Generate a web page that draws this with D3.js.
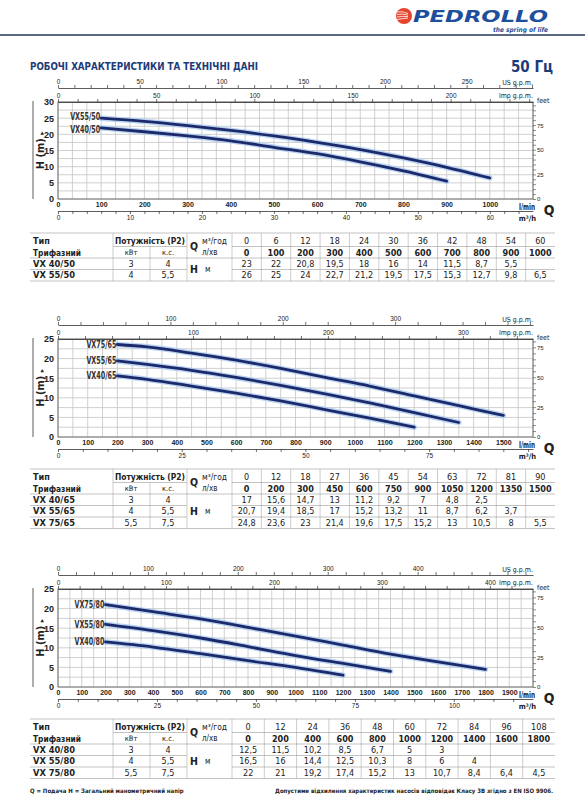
<!DOCTYPE html>
<html>
<head>
<meta charset="utf-8">
<script src="https://cdn.jsdelivr.net/npm/d3@7"></script>
<style>body{margin:0;background:#fff}</style>
</head>
<body>
<script>
// ---------- data: VX ../50 ----------
const lmin50 = [0, 100, 200, 300, 400, 500, 600, 700, 800, 900, 1000];
const m3h50 = [0, 6, 12, 18, 24, 30, 36, 42, 48, 54, 60];
const hVX40_50 = [23, 22, 20.8, 19.5, 18, 16, 14, 11.5, 8.7, 5.5];
const hVX55_50 = [26, 25, 24, 22.7, 21.2, 19.5, 17.5, 15.3, 12.7, 9.8, 6.5];
const models50 = ['VX 40/50', 'VX 55/50'];
const kw50 = ['3', '4'];
const hp50 = ['4', '5,5'];

// ---------- data: VX ../65 ----------
const lmin65 = [0, 200, 300, 450, 600, 750, 900, 1050, 1200, 1350, 1500];
const m3h65 = [0, 12, 18, 27, 36, 45, 54, 63, 72, 81, 90];
const hVX40_65 = [17, 15.6, 14.7, 13, 11.2, 9.2, 7, 4.8, 2.5];
const hVX55_65 = [20.7, 19.4, 18.5, 17, 15.2, 13.2, 11, 8.7, 6.2, 3.7];
const hVX75_65 = [24.8, 23.6, 23, 21.4, 19.6, 17.5, 15.2, 13, 10.5, 8, 5.5];
const models65 = ['VX 40/65', 'VX 55/65', 'VX 75/65'];
const kw65 = ['3', '4', '5,5'];
const hp65 = ['4', '5,5', '7,5'];

// ---------- data: VX ../80 ----------
const lmin80 = [0, 200, 400, 600, 800, 1000, 1200, 1400, 1600, 1800];
const m3h80 = [0, 12, 24, 36, 48, 60, 72, 84, 96, 108];
const hVX40_80 = [12.5, 11.5, 10.2, 8.5, 6.7, 5, 3];
const hVX55_80 = [16.5, 16, 14.4, 12.5, 10.3, 8, 6, 4];
const hVX75_80 = [22, 21, 19.2, 17.4, 15.2, 13, 10.7, 8.4, 6.4, 4.5];
const models80 = ['VX 40/80', 'VX 55/80', 'VX 75/80'];
const kw80 = ['3', '4', '5,5'];
const hp80 = ['4', '5,5', '7,5'];

// ---------- layout ----------
const FN = '"Liberation Sans Narrow", "DejaVu Sans Condensed", "Arial Narrow", sans-serif';
const NAVY = '#1c2a6b';
const plotLeft = 58, plotRight = 533;
const US_PER_LMIN = 0.264172, IMP_PER_LMIN = 0.219969, FT_PER_M = 3.28084;

const svg = d3.select('body').append('svg')
    .attr('width', 585)
    .attr('height', 800)
    .style('font-family', FN);

const fmt = d => String(d).replace('.', ',');

// ---------- header ----------
const logo = svg.append('g');
logo.append('circle').attr('cx', 404).attr('cy', 16).attr('r', 8).attr('fill', '#e6452d');
[-4, -1.5, 1, 3.5].forEach(dy => {
    logo.append('path')
        .attr('d', `M397,${16 + dy} Q403,${15 + dy} 408,${16 + dy * 0.6}`)
        .attr('stroke', '#fff').attr('stroke-width', 0.8).attr('fill', 'none');
});
logo.append('text')
    .attr('x', 413).attr('y', 22)
    .attr('font-family', '"DejaVu Sans", sans-serif')
    .attr('font-size', 15).attr('font-weight', 'bold').attr('font-style', 'italic')
    .attr('textLength', 135).attr('lengthAdjust', 'spacingAndGlyphs')
    .attr('fill', '#1d4f9c')
    .text('PEDROLLO');
logo.append('text')
    .attr('x', 548).attr('y', 32).attr('text-anchor', 'end')
    .attr('font-size', 6.5).attr('font-style', 'italic').attr('font-weight', 'bold')
    .attr('fill', '#1d4f9c')
    .text('the spring of life');

svg.append('line')
    .attr('x1', 0).attr('x2', 585).attr('y1', 35).attr('y2', 35)
    .attr('stroke', '#25355a').attr('stroke-width', 1.3);

svg.append('text')
    .attr('x', 30).attr('y', 70)
    .attr('font-size', 11).attr('font-weight', 'bold').attr('fill', '#1e3a78')
    .attr('textLength', 228).attr('lengthAdjust', 'spacingAndGlyphs')
    .text('РОБОЧІ ХАРАКТЕРИСТИКИ ТА ТЕХНІЧНІ ДАНІ');
svg.append('text')
    .attr('x', 553).attr('y', 72).attr('text-anchor', 'end')
    .attr('font-size', 15).attr('font-weight', 'bold').attr('fill', '#1e3a78')
    .text('50 Гц');

// ---------- chart ----------
function drawChart(cfg)
{
    const { top, bottom, qMax, hMax } = cfg;
    const g = svg.append('g');

    const x = d3.scaleLinear().domain([0, qMax]).range([plotLeft, plotRight]);
    const y = d3.scaleLinear().domain([0, hMax]).range([bottom, top]);

    // grid
    g.append('g').selectAll('line')
        .data(d3.range(0, qMax + 0.01, cfg.gridQ))
        .enter().append('line')
        .attr('x1', d => x(d)).attr('x2', d => x(d))
        .attr('y1', top).attr('y2', bottom)
        .attr('stroke', '#c4c4c4').attr('stroke-width', 0.8);
    g.append('g').selectAll('line')
        .data(d3.range(0, hMax + 0.01, 2.5))
        .enter().append('line')
        .attr('x1', plotLeft).attr('x2', plotRight)
        .attr('y1', d => y(d)).attr('y2', d => y(d))
        .attr('stroke', '#c4c4c4').attr('stroke-width', 0.8);

    g.append('rect')
        .attr('x', plotLeft).attr('y', top)
        .attr('width', plotRight - plotLeft).attr('height', bottom - top)
        .attr('fill', 'none').attr('stroke', '#555').attr('stroke-width', 0.8);

    // left axis (H m)
    const yAxis = g.append('g')
        .attr('transform', `translate(${plotLeft},0)`)
        .call(d3.axisLeft(y).tickValues(d3.range(0, hMax + 0.1, 5)).tickSize(0).tickPadding(4));
    yAxis.select('.domain').remove();
    yAxis.selectAll('text').attr('font-size', 9).attr('font-weight', 'bold').attr('fill', '#222');

    // right axis (feet)
    const ft = d3.scaleLinear().domain([0, hMax * FT_PER_M]).range([bottom, top]);
    const ftAxis = g.append('g')
        .attr('transform', `translate(${plotRight},0)`)
        .call(d3.axisRight(ft)
            .tickValues(d3.range(0, hMax * FT_PER_M, 5))
            .tickFormat(d => d % 25 === 0 ? d : '')
            .tickSize(3).tickPadding(1));
    ftAxis.select('.domain').remove();
    ftAxis.selectAll('line').attr('stroke', '#444').attr('stroke-width', 0.6);
    ftAxis.selectAll('text').attr('font-size', 6).attr('fill', '#222');
    g.append('text')
        .attr('x', plotRight + 4).attr('y', top + 1)
        .attr('font-size', 7).attr('fill', '#222').text('feet');

    // top axes (US and Imp g.p.m.); labels near the unit text are left out
    const topLabel = (sc, lab) => d => (d % lab === 0 && sc(d) < 495) ? d : '';
    const us = d3.scaleLinear().domain([0, qMax * US_PER_LMIN]).range([plotLeft, plotRight]);
    const usAxis = g.append('g')
        .attr('transform', `translate(0,${top - 14})`)
        .call(d3.axisTop(us)
            .tickValues(d3.range(0, qMax * US_PER_LMIN, cfg.usStep))
            .tickFormat(topLabel(us, cfg.usLab))
            .tickSize(3).tickSizeOuter(0).tickPadding(1));
    const imp = d3.scaleLinear().domain([0, qMax * IMP_PER_LMIN]).range([plotLeft, plotRight]);
    const impAxis = g.append('g')
        .attr('transform', `translate(0,${top})`)
        .call(d3.axisTop(imp)
            .tickValues(d3.range(0, qMax * IMP_PER_LMIN, cfg.impStep))
            .tickFormat(topLabel(imp, cfg.impLab))
            .tickSize(3).tickSizeOuter(0).tickPadding(1));
    [usAxis, impAxis].forEach(a => {
        a.selectAll('line').attr('stroke', '#333').attr('stroke-width', 0.7);
        a.select('.domain').attr('stroke', '#333').attr('stroke-width', 0.8);
        a.selectAll('text').attr('font-size', 6.5).attr('fill', '#222');
    });
    g.append('text').attr('x', plotRight).attr('y', top - 17).attr('text-anchor', 'end')
        .attr('font-size', 7).attr('fill', '#222').text('US g.p.m.');
    g.append('text').attr('x', plotRight).attr('y', top - 4).attr('text-anchor', 'end')
        .attr('font-size', 7).attr('fill', '#222').text('Imp g.p.m.');

    // bottom l/min labels
    const qAxis = g.append('g')
        .attr('transform', `translate(0,${bottom})`)
        .call(d3.axisBottom(x).tickValues(d3.range(0, qMax, 100))
            .tickFormat(d3.format('d')).tickSize(0).tickPadding(2));
    qAxis.select('.domain').remove();
    qAxis.selectAll('text')
        .attr('font-size', 8).attr('font-weight', 'bold').attr('fill', '#222')
        .attr('textLength', d => String(d).length * 3.9)
        .attr('lengthAdjust', 'spacingAndGlyphs');
    g.append('text').attr('x', 535).attr('y', bottom + 10.5).attr('text-anchor', 'end')
        .attr('font-size', 8).attr('font-weight', 'bold').attr('fill', '#222')
        .attr('textLength', 16).attr('lengthAdjust', 'spacingAndGlyphs')
        .text('l/min');

    // m3/h axis
    const m3 = d3.scaleLinear().domain([0, qMax * 0.06]).range([plotLeft, plotRight]);
    const m3Axis = g.append('g')
        .attr('transform', `translate(0,${bottom + 12})`)
        .call(d3.axisBottom(m3)
            .tickValues(d3.range(0, qMax * 0.06 - 0.01, cfg.m3Step))
            .tickFormat(d => d % cfg.m3Lab === 0 ? d : '')
            .tickSize(3).tickSizeOuter(0).tickPadding(1));
    m3Axis.selectAll('line').attr('stroke', '#333').attr('stroke-width', 0.7);
    m3Axis.select('.domain').attr('stroke', '#333').attr('stroke-width', 0.8);
    m3Axis.selectAll('text').attr('font-size', 6.5).attr('fill', '#222');
    g.append('text').attr('x', 536).attr('y', bottom + 22).attr('text-anchor', 'end')
        .attr('font-size', 7.5).attr('font-weight', 'bold').attr('fill', '#222').text('m³/h');

    g.append('text').attr('x', 549).attr('y', bottom + 16).attr('text-anchor', 'middle')
        .attr('font-size', 14).attr('font-weight', 'bold').attr('fill', '#222').text('Q');

    // H (m) label
    g.append('line')
        .attr('x1', 33).attr('x2', 33).attr('y1', top - 1).attr('y2', bottom)
        .attr('stroke', '#333').attr('stroke-width', 0.8);
    const hl = g.append('text')
        .attr('transform', `translate(44,${(top + bottom) / 2}) rotate(-90)`)
        .attr('text-anchor', 'middle')
        .attr('font-size', 11).attr('font-weight', 'bold').attr('fill', '#222');
    hl.append('tspan').text('H (m) ');
    hl.append('tspan').attr('font-size', 7).text('▸');

    // curves
    const line = d3.line()
        .x(d => x(d[0]))
        .y(d => y(d[1]))
        .curve(d3.curveMonotoneX);
    cfg.curves.forEach(c => {
        const pts = c.h.map((v, i) => [c.q[i], v]).slice(1);
        g.append('path').datum(pts).attr('d', line)
            .attr('fill', 'none').attr('stroke', '#a9c9ee').attr('stroke-width', 5.5)
            .attr('stroke-linecap', 'round').attr('opacity', 0.8);
        g.append('path').datum(pts).attr('d', line)
            .attr('fill', 'none').attr('stroke', NAVY).attr('stroke-width', 2.8)
            .attr('stroke-linecap', 'round');
        g.append('text')
            .attr('x', x(pts[0][0]) - 1).attr('y', y(pts[0][1]) + (c.shift || 0))
            .attr('dy', '0.35em').attr('text-anchor', 'end')
            .attr('font-size', 10).attr('font-weight', 'bold').attr('fill', '#333')
            .attr('textLength', 30).attr('lengthAdjust', 'spacingAndGlyphs')
            .text(c.name);
    });
}

// ---------- table ----------
function drawTable(t)
{
    const y0 = t.top;
    const g = svg.append('g');
    const n = t.m3h.length;
    const numL = 232, numR = 555;
    const col = d3.scaleBand().domain(d3.range(n)).range([numL, numR]);
    const rowH = 11.5;
    const r1 = y0 + 8, r2 = y0 + 19.5, hdrB = y0 + 25;
    const dataY = i => hdrB + rowH * i + rowH / 2;
    const bottomY = hdrB + rowH * t.models.length;
    const gray = '#9a9a9a';

    const hline = (x1, x2, yy) => g.append('line')
        .attr('x1', x1).attr('x2', x2).attr('y1', yy).attr('y2', yy)
        .attr('stroke', gray).attr('stroke-width', 0.6);
    const vline = (xx, y1, y2) => g.append('line')
        .attr('x1', xx).attr('x2', xx).attr('y1', y1).attr('y2', y2)
        .attr('stroke', gray).attr('stroke-width', 0.5);

    hline(30, 555, y0);
    hline(113, 187, y0 + 13.5);
    hline(232, 555, y0 + 13.5);
    hline(30, 555, hdrB);
    for (let i = 1; i < t.models.length; i++) {
        hline(30, 187, hdrB + rowH * i);
        hline(232, 555, hdrB + rowH * i);
    }
    hline(30, 555, bottomY);

    vline(113, y0, bottomY);
    vline(150, y0 + 13.5, bottomY);
    vline(187, y0, bottomY);
    vline(232, y0, bottomY);
    for (let i = 1; i < n; i++) vline(col(i), y0, bottomY);

    const txt = (xx, yy, s, size, bold, anchor) => g.append('text')
        .attr('x', xx).attr('y', yy).attr('dy', '0.35em')
        .attr('text-anchor', anchor || 'middle')
        .attr('font-size', size).attr('font-weight', bold ? 'bold' : 'normal')
        .attr('fill', '#222').text(s);

    txt(33, r1, 'Тип', 9, true, 'start');
    txt(33, r2, 'Трифазний', 9, true, 'start')
        .attr('textLength', 48).attr('lengthAdjust', 'spacingAndGlyphs');
    txt(150, r1, 'Потужність (P2)', 8.5, true)
        .attr('textLength', 70).attr('lengthAdjust', 'spacingAndGlyphs');
    txt(131, r2, 'кВт', 7.5, false);
    txt(168, r2, 'к.с.', 7.5, false);
    txt(194, (r1 + r2) / 2, 'Q', 10.5, true);
    txt(202, r1, 'м³/год', 8, false, 'start')
        .attr('textLength', 25).attr('lengthAdjust', 'spacingAndGlyphs');
    txt(202, r2, 'л/хв', 8, false, 'start');
    txt(194, (dataY(0) + dataY(t.models.length - 1)) / 2, 'H', 10.5, true);
    txt(205, (dataY(0) + dataY(t.models.length - 1)) / 2, 'м', 8, false, 'start');

    t.m3h.forEach((v, i) => txt(col(i) + col.bandwidth() / 2, r1, v, 9, false));
    t.lmin.forEach((v, i) => txt(col(i) + col.bandwidth() / 2, r2, v, 9, true));

    t.models.forEach((m, j) => {
        txt(33, dataY(j), m, 9, true, 'start')
            .attr('textLength', 42).attr('lengthAdjust', 'spacingAndGlyphs');
        txt(131, dataY(j), t.kw[j], 9, false);
        txt(168, dataY(j), t.hp[j], 9, false);
        t.h[j].forEach((v, i) => txt(col(i) + col.bandwidth() / 2, dataY(j), fmt(v), 9, false));
    });
}

// ---------- draw ----------
drawChart({
    top: 102, bottom: 199, qMax: 1100, hMax: 30, gridQ: 100 / 3,
    usStep: 10, usLab: 50, impStep: 10, impLab: 50, m3Step: 2, m3Lab: 10,
    curves: [
        { name: 'VX55/50', q: lmin50, h: hVX55_50, shift: -2 },
        { name: 'VX40/50', q: lmin50, h: hVX40_50, shift: 1.5 }
    ]
});
drawTable({ top: 233, m3h: m3h50, lmin: lmin50, models: models50, kw: kw50, hp: hp50, h: [hVX40_50, hVX55_50] });

drawChart({
    top: 339, bottom: 437, qMax: 1600, hMax: 25, gridQ: 50,
    usStep: 20, usLab: 100, impStep: 20, impLab: 100, m3Step: 5, m3Lab: 25,
    curves: [
        { name: 'VX75/65', q: lmin65, h: hVX75_65 },
        { name: 'VX55/65', q: lmin65, h: hVX55_65 },
        { name: 'VX40/65', q: lmin65, h: hVX40_65 }
    ]
});
drawTable({ top: 469, m3h: m3h65, lmin: lmin65, models: models65, kw: kw65, hp: hp65, h: [hVX40_65, hVX55_65, hVX75_65] });

drawChart({
    top: 589, bottom: 687, qMax: 2000, hMax: 25, gridQ: 50,
    usStep: 20, usLab: 100, impStep: 20, impLab: 100, m3Step: 5, m3Lab: 25,
    curves: [
        { name: 'VX75/80', q: lmin80, h: hVX75_80 },
        { name: 'VX55/80', q: lmin80, h: hVX55_80 },
        { name: 'VX40/80', q: lmin80, h: hVX40_80 }
    ]
});
drawTable({ top: 719, m3h: m3h80, lmin: lmin80, models: models80, kw: kw80, hp: hp80, h: [hVX40_80, hVX55_80, hVX75_80] });

// ---------- footnotes ----------
svg.append('text').attr('x', 30).attr('y', 793)
    .attr('font-size', 6).attr('font-weight', 'bold').attr('fill', '#222')
    .text('Q = Подача   H = Загальний манометричний напір');
svg.append('text').attr('x', 553).attr('y', 793).attr('text-anchor', 'end')
    .attr('font-size', 6).attr('font-weight', 'bold').attr('fill', '#222')
    .text('Допустиме відхилення характеристик насосів відповідає Класу 3B згідно з EN ISO 9906.');
</script>
</body>
</html>
